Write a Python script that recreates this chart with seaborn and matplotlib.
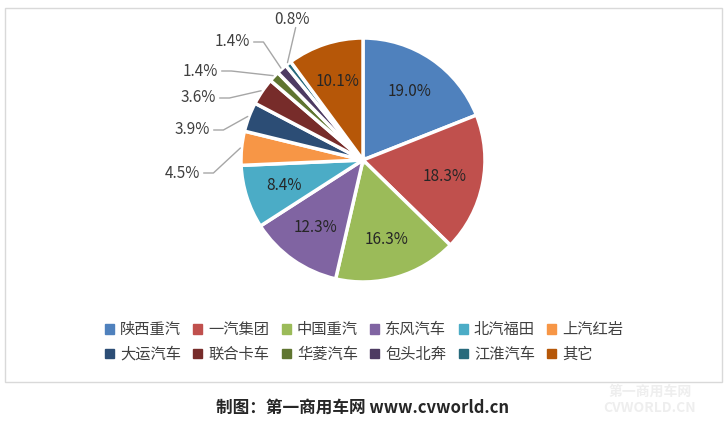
import matplotlib
matplotlib.use('Agg')
import matplotlib.pyplot as plt
import numpy as np
import seaborn as sns
from matplotlib.patches import Rectangle

sns.set_theme(style='white')
plt.rcParams['font.family'] = ['Noto Sans CJK SC', 'DejaVu Sans']

brands = ['陕西重汽', '一汽集团', '中国重汽', '东风汽车', '北汽福田', '上汽红岩',
          '大运汽车', '联合卡车', '华菱汽车', '包头北奔', '江淮汽车', '其它']
shares = [19.0, 18.3, 16.3, 12.3, 8.4, 4.5, 3.9, 3.6, 1.4, 1.4, 0.8, 10.1]
colors = ['#4F81BD', '#C0504D', '#9BBB59', '#8064A2', '#4BACC6', '#F79646',
          '#2C4D75', '#772C2A', '#5F7530', '#4D3B62', '#276A7C', '#B65708']
# outside label positions (figure pixels from top-left) for the small slices
outside = {5: (200, 173), 6: (210, 130), 7: (216, 98), 8: (218, 71), 9: (250, 42), 10: (292, 19)}

W, H = 728, 424
fig = plt.figure(figsize=(W / 100, H / 100), dpi=100)
fig.patches.append(Rectangle((5 / W, 42 / H), 717 / W, 374 / H, transform=fig.transFigure,
                             fill=False, edgecolor='#D9D9D9', linewidth=1))

cx, cy, r = 363, 160, 122
ax = fig.add_axes([(cx - r) / W, (H - cy - r) / H, 2 * r / W, 2 * r / H])
wedges, _ = ax.pie(shares, colors=colors, startangle=90, counterclock=False,
                   wedgeprops=dict(edgecolor='white', linewidth=2.5))
ax.set_xlim(-1, 1)
ax.set_ylim(-1, 1)
ax.set_aspect('auto')

for i, (w, v) in enumerate(zip(wedges, shares)):
    ang = np.deg2rad((w.theta1 + w.theta2) / 2)
    txt = f'{v:.1f}%'
    ex, ey = np.cos(ang) * 1.01, np.sin(ang) * 1.01
    if i in outside:
        px, py = outside[i]
        tx = (px - cx) / r
        ty = (cy - py) / r
        if i < 10:
            ax.text(tx, ty, txt, ha='right', va='center', fontsize=11, color='#404040', clip_on=False)
            x0 = tx + 0.03
            ax.plot([x0, x0 + 0.08, ex], [ty, ty, ey], color='#A6A6A6', lw=1, clip_on=False)
        else:
            ax.text(tx, ty, txt, ha='center', va='center', fontsize=11, color='#404040', clip_on=False)
            ax.plot([tx + 0.03, ex], [ty - 0.07, ey], color='#A6A6A6', lw=1, clip_on=False)
    else:
        ax.text(np.cos(ang) * 0.68, np.sin(ang) * 0.68, txt, ha='center', va='center',
                fontsize=11, color='#262626')

handles = [Rectangle((0, 0), 1, 1, color=c) for c in colors]
order = [0, 6, 1, 7, 2, 8, 3, 9, 4, 10, 5, 11]
fig.legend([handles[k] for k in order], [brands[k] for k in order], loc='center',
           bbox_to_anchor=(0.5, 1 - 342 / H), ncol=6,
           frameon=False, fontsize=11, handlelength=0.6, handleheight=0.6,
           columnspacing=0.8, handletextpad=0.4, labelspacing=0.5, labelcolor='#404040')

fig.text(363 / W, 1 - 408 / H, '制图：第一商用车网 www.cvworld.cn', ha='center', va='center',
         fontsize=12, fontweight='bold', color='#262626')
fig.text(650 / W, 1 - 400 / H, '第一商用车网\nCVWORLD.CN', ha='center', va='center',
         fontsize=10, color='#EEEEEE', fontweight='bold')

fig.savefig('out.png', dpi=100)
